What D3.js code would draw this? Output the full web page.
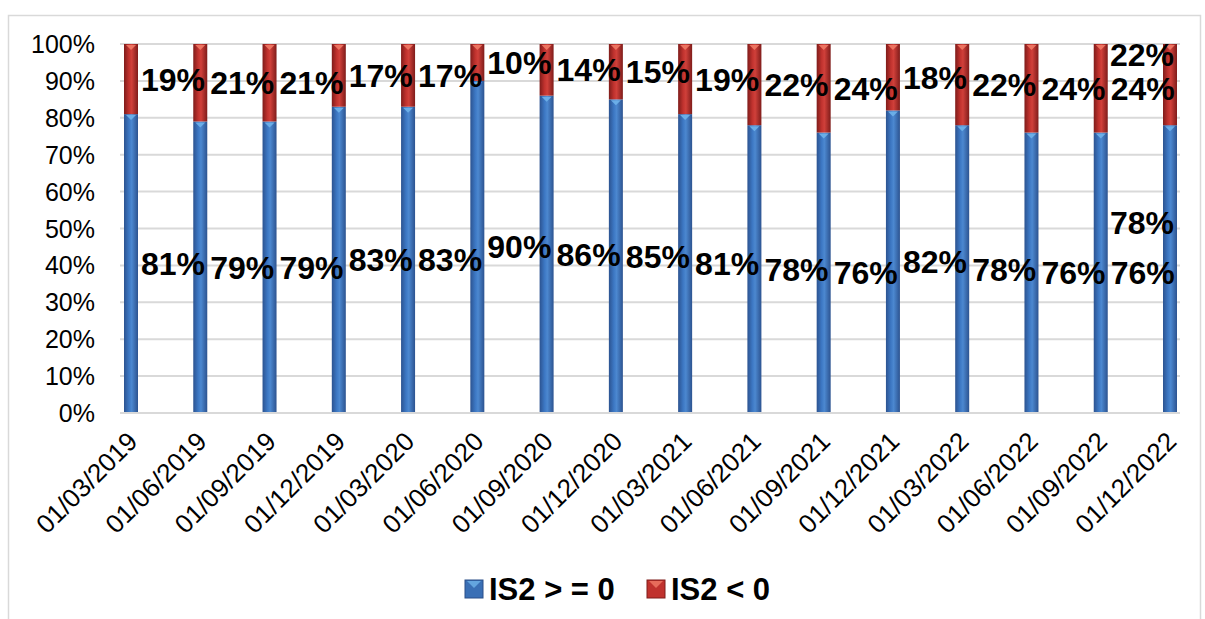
<!DOCTYPE html>
<html>
<head>
<meta charset="utf-8">
<script src="https://cdn.jsdelivr.net/npm/d3@7"></script>
<style>
  body { margin: 0; background: #fff; }
  text { font-family: "Liberation Sans", Arial, sans-serif; }
</style>
</head>
<body>
<div id="chart"></div>
<script>
// quarterly dates
const dates = ["01/03/2019","01/06/2019","01/09/2019","01/12/2019","01/03/2020","01/06/2020",
  "01/09/2020","01/12/2020","01/03/2021","01/06/2021","01/09/2021","01/12/2021",
  "01/03/2022","01/06/2022","01/09/2022","01/12/2022"];
const positive = [81,79,79,83,83,90,86,85,81,78,76,82,78,76,76,78];   // IS2 > = 0
const negative = [19,21,21,17,17,10,14,15,19,22,24,18,22,24,24,22];   // IS2 < 0
const seriesNames = ["IS2 > = 0", "IS2 < 0"];
const yTicks = [0,10,20,30,40,50,60,70,80,90,100];

const width = 1205, height = 619;
const plotLeft = 120, plotRight = 1180, plotTop = 44, plotBottom = 413;

const svg = d3.select("#chart").append("svg")
  .attr("width", width)
  .attr("height", height);

// outer border
svg.append("rect")
  .attr("x", 8.5).attr("y", 15.5)
  .attr("width", 1192).attr("height", 620)
  .attr("fill", "none").attr("stroke", "#d9d9d9").attr("stroke-width", 1.5);

const defs = svg.append("defs");
function cylGrad(id, edge, mid, light) {
  const g = defs.append("linearGradient").attr("id", id)
    .attr("x1", "0%").attr("x2", "100%").attr("y1", "0%").attr("y2", "0%");
  g.append("stop").attr("offset", "0%").attr("stop-color", edge);
  g.append("stop").attr("offset", "35%").attr("stop-color", mid);
  g.append("stop").attr("offset", "55%").attr("stop-color", light);
  g.append("stop").attr("offset", "100%").attr("stop-color", edge);
}
cylGrad("gBlue", "#2c5390", "#3c77c3", "#4c88d0");
cylGrad("gRed", "#7f1c1a", "#c0322e", "#d0403a");

const x = d3.scalePoint().domain(dates).range([131, 1170]);
const y = d3.scaleLinear().domain([0, 100]).range([plotBottom, plotTop]);

// gridlines
svg.append("g")
  .selectAll("line")
  .data(yTicks)
  .join("line")
  .attr("x1", plotLeft).attr("x2", plotRight)
  .attr("y1", d => y(d)).attr("y2", d => y(d))
  .attr("stroke", "#d9d9d9").attr("stroke-width", 2);

// y axis labels
svg.append("g")
  .attr("font-size", 25)
  .attr("text-anchor", "end")
  .selectAll("text")
  .data(yTicks)
  .join("text")
  .attr("x", 95)
  .attr("y", d => y(d))
  .attr("dy", "0.36em")
  .attr("fill", "#000")
  .text(d => d + "%");

// stacked data
const rows = dates.map((d, i) => ({ date: d, pos: positive[i], neg: negative[i] }));
const stack = d3.stack().keys(["pos", "neg"])(rows);
const fills = ["url(#gBlue)", "url(#gRed)"];
const tips = ["#6fb3ea", "#f07a66"];
const barW = 14;

const layers = svg.append("g")
  .selectAll("g")
  .data(stack)
  .join("g");

layers.selectAll("rect")
  .data(d => d)
  .join("rect")
  .attr("x", d => x(d.data.date) - barW / 2)
  .attr("y", d => y(d[1]))
  .attr("width", barW)
  .attr("height", d => y(d[0]) - y(d[1]))
  .attr("fill", function() { return fills[d3.select(this.parentNode).datum().index]; });

// small bevel triangle at top of each segment
layers.selectAll("path")
  .data(d => d)
  .join("path")
  .attr("d", d => {
    const cx = x(d.data.date), ty = y(d[1]);
    return `M${cx - 5},${ty + 1}L${cx + 5},${ty + 1}L${cx},${ty + 6}Z`;
  })
  .attr("fill", function() { return tips[d3.select(this.parentNode).datum().index]; })
  .attr("opacity", 0.9);

// x axis line
svg.append("line")
  .attr("x1", plotLeft).attr("x2", plotRight)
  .attr("y1", plotBottom).attr("y2", plotBottom)
  .attr("stroke", "#d9d9d9").attr("stroke-width", 2);

// x labels
svg.append("g")
  .attr("font-size", 26)
  .attr("text-anchor", "end")
  .selectAll("text")
  .data(dates)
  .join("text")
  .attr("transform", d => `translate(${x(d) + 8},${plotBottom + 30}) rotate(-45)`)
  .attr("fill", "#000")
  .text(d => d);

// data labels
const last = dates.length - 1;
svg.append("g")
  .attr("font-size", 32)
  .attr("font-weight", "bold")
  .attr("text-anchor", "middle")
  .selectAll("text")
  .data(stack.flatMap((layer, k) => layer.map((d, i) => ({ d, k, i }))))
  .join("text")
  .attr("x", ({ d, i }) => x(d.data.date) + (i === last ? -28 : 42))
  .attr("y", ({ d, k, i }) => {
    let cy = y((d[0] + d[1]) / 2);
    if (i === last) cy += k === 0 ? -47 : -30;
    return cy;
  })
  .attr("dy", "0.36em")
  .attr("fill", "#000")
  .text(({ d }) => (d[1] - d[0]) + "%");

// legend
const legend = svg.append("g")
  .attr("font-size", 31)
  .attr("font-weight", "bold");
const legX = [465, 647];
seriesNames.forEach((name, i) => {
  const g = legend.append("g").attr("transform", `translate(${legX[i]},580)`);
  g.append("rect").attr("width", 18).attr("height", 18)
    .attr("fill", i === 0 ? "#3a6fb5" : "#c0322e")
    .attr("stroke", i === 0 ? "#2b4f88" : "#7f1c1a").attr("stroke-width", 1);
  g.append("path").attr("d", "M2,1L16,1L9,8Z").attr("fill", tips[i]).attr("opacity", 0.8);
  g.append("text").attr("x", 24).attr("y", 9).attr("dy", "0.36em").attr("fill", "#000").text(name);
});
</script>
</body>
</html>
